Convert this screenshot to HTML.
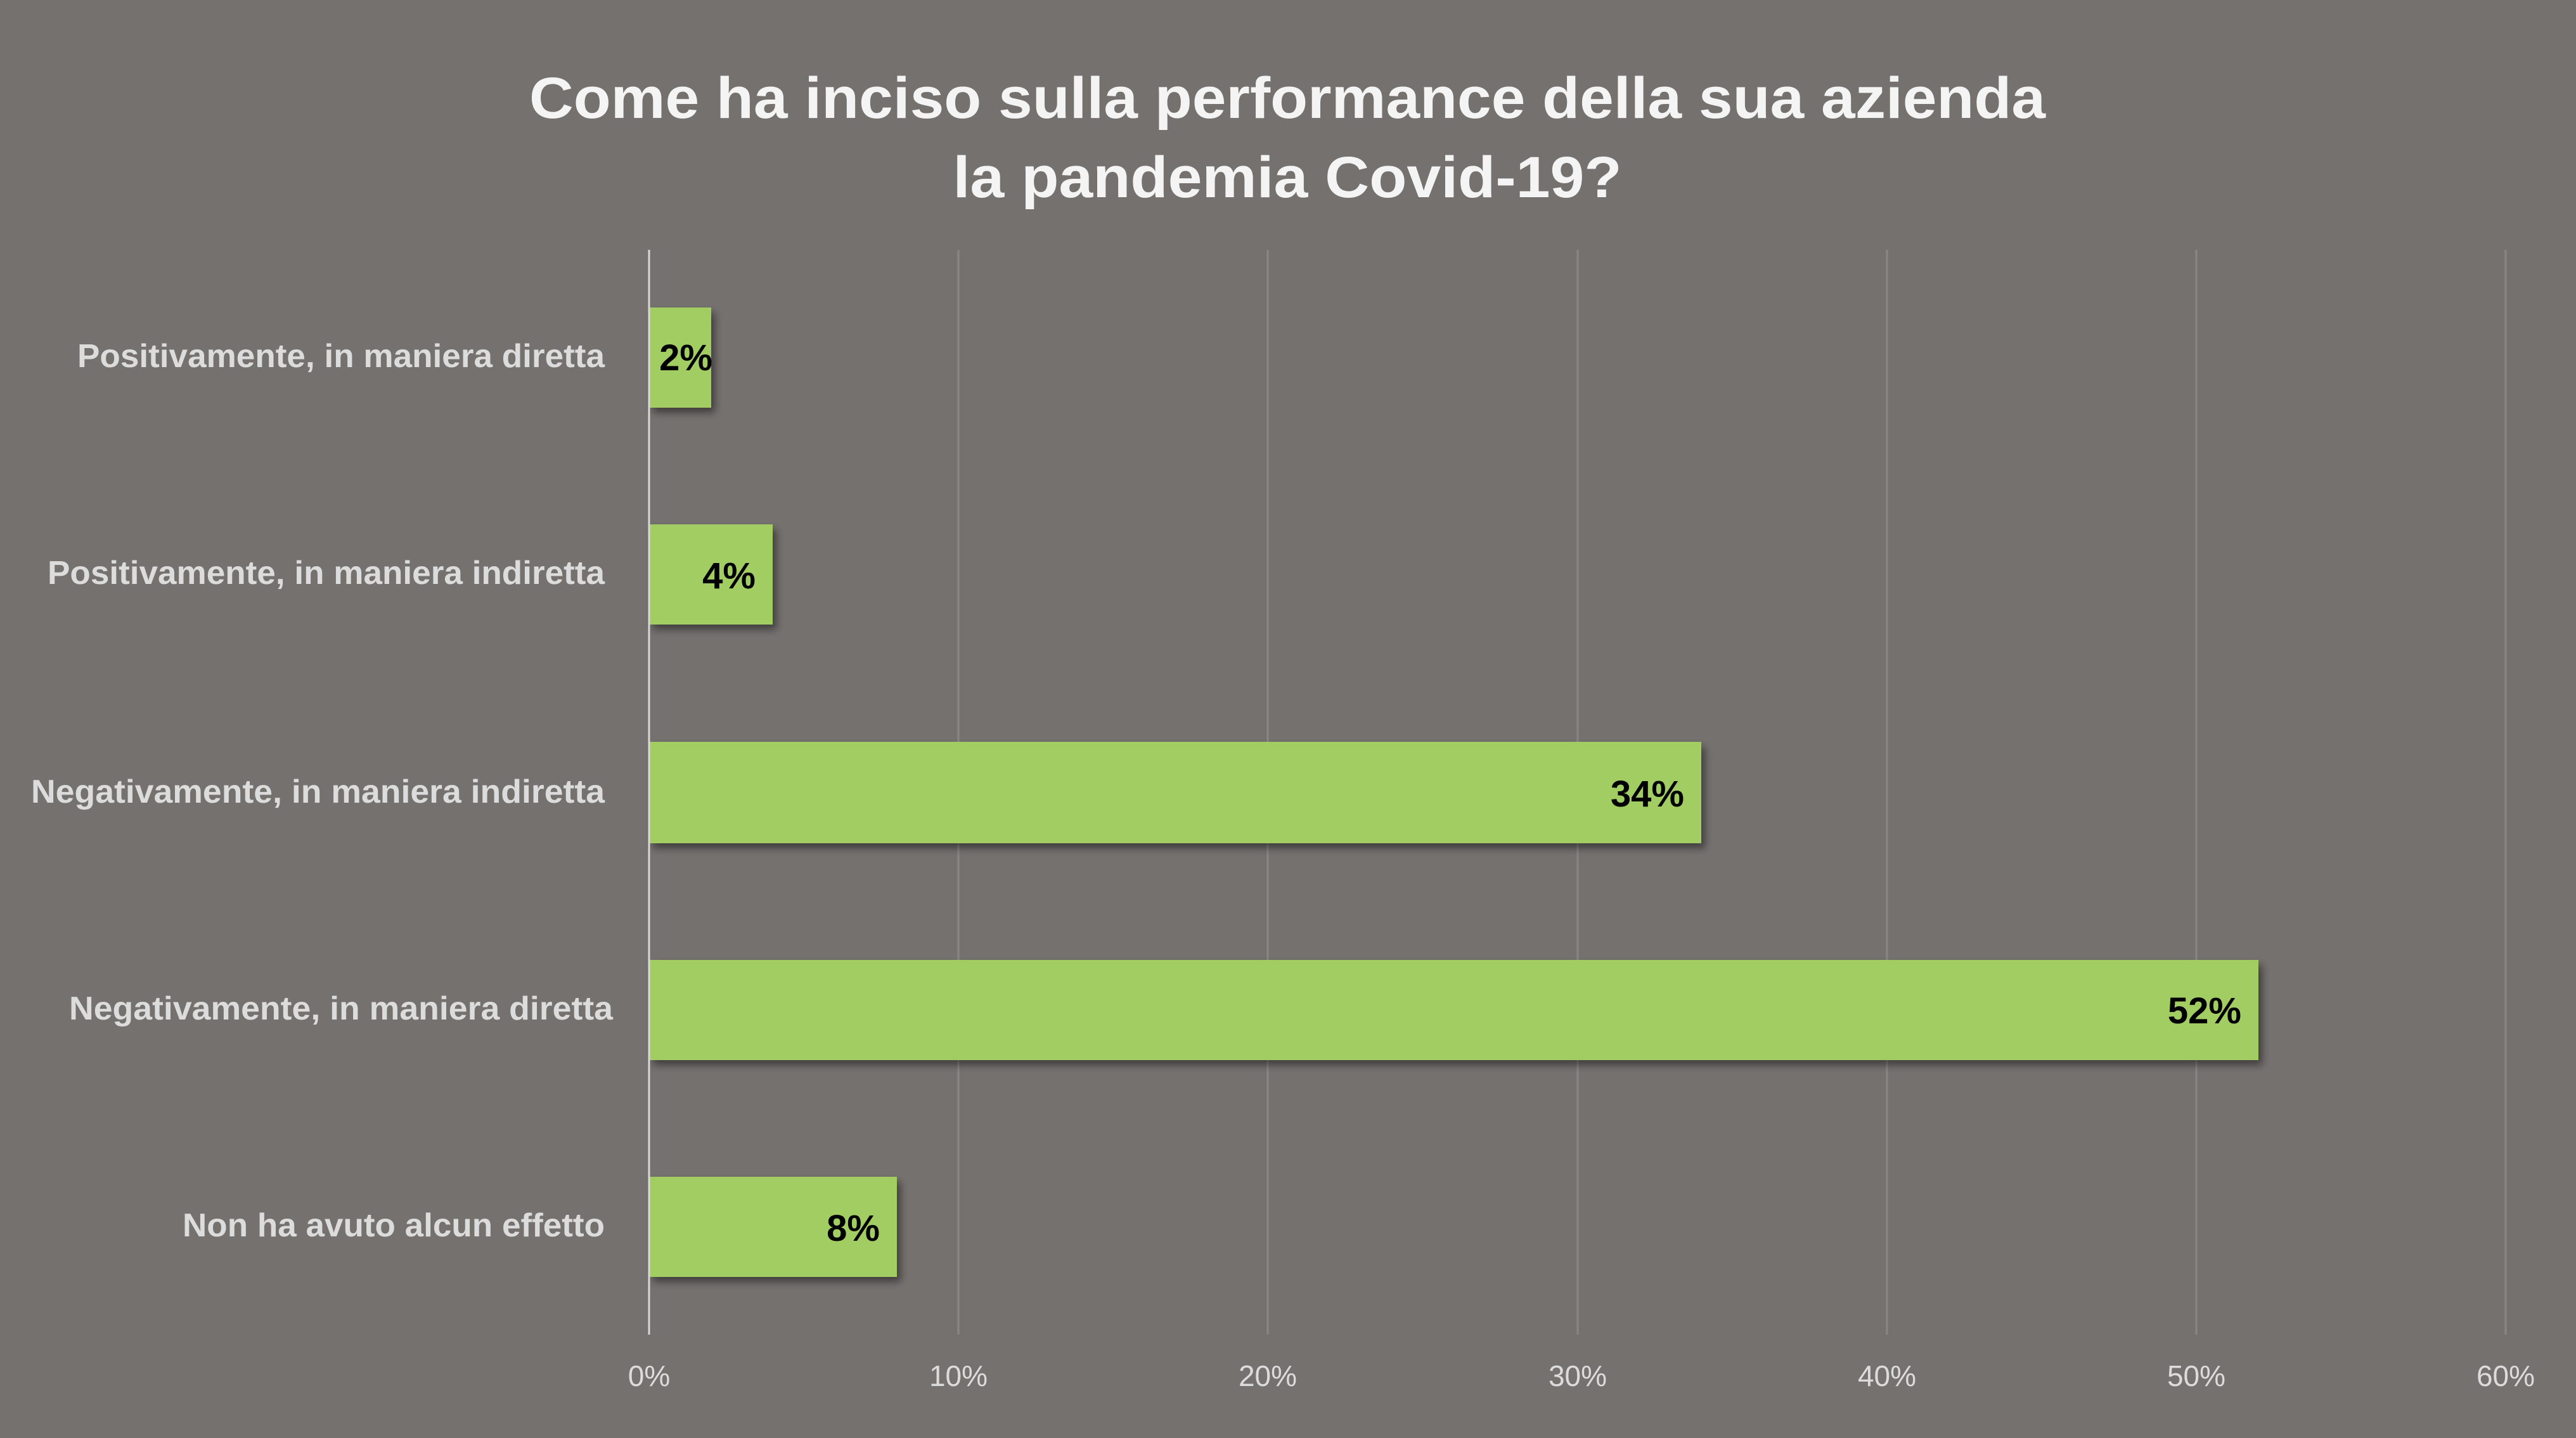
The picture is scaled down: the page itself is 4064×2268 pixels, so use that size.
<!DOCTYPE html>
<html><head><meta charset="utf-8"><style>html,body{margin:0;padding:0;background:#75716f;}svg{display:block}</style></head>
<body>
<svg width="4064" height="2268" viewBox="0 0 4064 2268" xmlns="http://www.w3.org/2000/svg">
<defs><filter id="sh" x="-5%" y="-10%" width="115%" height="130%"><feDropShadow dx="6" dy="8" stdDeviation="6" flood-color="#000" flood-opacity="0.45"/></filter></defs>
<rect width="4064" height="2268" fill="#75716f"/>
<g font-family="Liberation Sans, sans-serif" font-weight="bold" fill="#f4f4f4" font-size="92">
<text x="2031" y="186" text-anchor="middle" textLength="2392" lengthAdjust="spacingAndGlyphs">Come ha inciso sulla performance della sua azienda</text>
<text x="2031" y="311" text-anchor="middle" textLength="1055" lengthAdjust="spacingAndGlyphs">la pandemia Covid-19?</text>
</g>
<g stroke="#8a8685" stroke-width="3">
<line x1="1512" y1="394" x2="1512" y2="2105"/><line x1="2000" y1="394" x2="2000" y2="2105"/>
<line x1="2489" y1="394" x2="2489" y2="2105"/><line x1="2977" y1="394" x2="2977" y2="2105"/>
<line x1="3465" y1="394" x2="3465" y2="2105"/><line x1="3953" y1="394" x2="3953" y2="2105"/>
</g>
<g fill="#a2cd64" filter="url(#sh)">
<rect x="1024" y="485" width="98" height="158"/>
<rect x="1024" y="827" width="195" height="158"/>
<rect x="1024" y="1170" width="1660" height="160"/>
<rect x="1024" y="1514" width="2539" height="158"/>
<rect x="1024" y="1856" width="391" height="158"/>
</g>
<line x1="1024" y1="394" x2="1024" y2="2105" stroke="#d8d8d8" stroke-width="3"/>
<g font-family="Liberation Sans, sans-serif" font-weight="bold" fill="#dcdcdc" font-size="52" text-anchor="end">
<text x="954" y="579" textLength="832" lengthAdjust="spacingAndGlyphs">Positivamente, in maniera diretta</text>
<text x="954" y="921" textLength="879" lengthAdjust="spacingAndGlyphs">Positivamente, in maniera indiretta</text>
<text x="954" y="1266" textLength="905" lengthAdjust="spacingAndGlyphs">Negativamente, in maniera indiretta</text>
<text x="967" y="1608" textLength="858" lengthAdjust="spacingAndGlyphs">Negativamente, in maniera diretta</text>
<text x="954" y="1950" textLength="666" lengthAdjust="spacingAndGlyphs">Non ha avuto alcun effetto</text>
</g>
<g font-family="Liberation Sans, sans-serif" font-weight="bold" fill="#000" font-size="58" text-anchor="end">
<text x="1124" y="584">2%</text>
<text x="1192" y="928">4%</text>
<text x="2657" y="1272">34%</text>
<text x="3536" y="1614">52%</text>
<text x="1388" y="1957">8%</text>
</g>
<g font-family="Liberation Sans, sans-serif" fill="#dcdcdc" font-size="46" text-anchor="middle">
<text x="1024" y="2186">0%</text><text x="1512" y="2186">10%</text><text x="2000" y="2186">20%</text>
<text x="2489" y="2186">30%</text><text x="2977" y="2186">40%</text><text x="3465" y="2186">50%</text>
<text x="3953" y="2186">60%</text>
</g>
</svg>
</body></html>
